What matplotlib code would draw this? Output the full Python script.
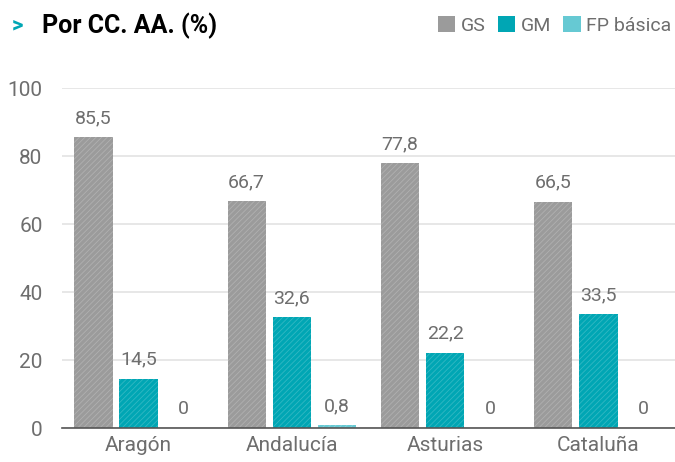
import numpy as np
import matplotlib
matplotlib.use("Agg")
import matplotlib.pyplot as plt
from matplotlib.patches import Patch

# datos
regiones = ["Aragón", "Andalucía", "Asturias", "Cataluña"]
gs = [85.5, 66.7, 77.8, 66.5]
gm = [14.5, 32.6, 22.2, 33.5]
fp_basica = [0, 0.8, 0, 0]
series = ["GS", "GM", "FP básica"]

colores = ["#9b9b9b", "#00a6b4", "#66c9d3"]
hatch_col = ["#b0b0b0", "#33b8c3", "#85d4dc"]

plt.rcParams["font.family"] = ["Roboto", "DejaVu Sans"]
plt.rcParams["hatch.linewidth"] = 0.6

fig = plt.figure(figsize=(6.75, 4.62), dpi=100)
ax = fig.add_axes([62 / 675, 1 - 428 / 462, 1 - 62 / 675, (428 - 88) / 462])

x = np.arange(len(regiones))
ancho = 0.25
paso = 0.295
texto_gris = "#6e6e6e"

for i, (vals, c, hc) in enumerate(zip([gs, gm, fp_basica], colores, hatch_col)):
    pos = x + (i - 1) * paso
    ax.bar(pos, vals, width=ancho, color=c, edgecolor=hc, hatch="//////",
           linewidth=0, zorder=3)
    for p, v in zip(pos, vals):
        etiqueta = f"{v:.1f}".replace(".", ",") if v != 0 else "0"
        ax.text(p, v + 3, etiqueta, ha="center", va="bottom",
                fontsize=14, color=texto_gris)

ax.set_xlim(-0.5, 3.5)
ax.set_ylim(0, 100)
ax.set_yticks([0, 20, 40, 60, 80, 100])
ax.set_xticks(x)
ax.set_xticklabels(regiones)
ax.tick_params(axis="y", length=0, pad=14, labelsize=15, labelcolor=texto_gris)
ax.tick_params(axis="x", length=0, pad=6, labelsize=15, labelcolor=texto_gris)
ax.grid(axis="y", color="#e3e3e3", linewidth=1.2, zorder=0)
for s in ["top", "right", "left"]:
    ax.spines[s].set_visible(False)
ax.spines["bottom"].set_color("#555555")
ax.spines["bottom"].set_linewidth(1.2)
ax.spines["bottom"].set_zorder(4)

# titulo
fig.text(0.018, 0.945, ">", fontsize=16, fontweight="bold", color="#00a6b4",
         va="center")
fig.text(0.062, 0.945, "Por CC. AA. (%)", fontsize=18, fontweight="bold",
         color="black", va="center")

# leyenda
handles = [Patch(facecolor=c, edgecolor="none") for c in colores]
fig.legend(handles, series, loc="center right", bbox_to_anchor=(0.995, 0.945),
           ncol=3, frameon=False, fontsize=14, handlelength=0.9,
           handleheight=0.9, handletextpad=0.3, columnspacing=0.6,
           labelcolor=texto_gris, borderaxespad=0, borderpad=0)

fig.savefig("out.png", dpi=100)
